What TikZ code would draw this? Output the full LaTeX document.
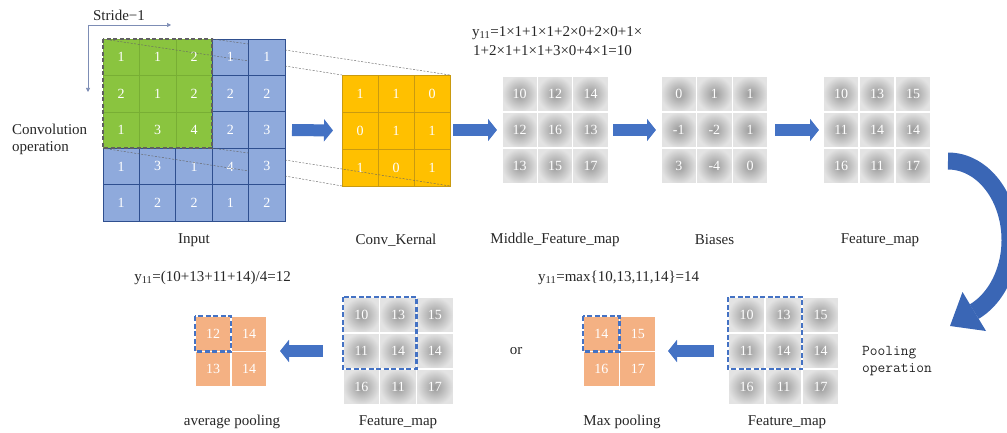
\documentclass[tikz,border=0pt]{standalone}
\usepackage{fontspec}
\setmainfont{Liberation Serif}
\usetikzlibrary{arrows.meta,calc}

\definecolor{inblue}{HTML}{8FAADC}
\definecolor{inline}{HTML}{2F4F8F}
\definecolor{ingreen}{HTML}{8AC43F}
\definecolor{greenline}{HTML}{78AE34}
\definecolor{kernfill}{HTML}{FFC000}
\definecolor{kernline}{HTML}{C99A10}
\definecolor{poolfill}{HTML}{F4B183}
\definecolor{arrowblue}{HTML}{4472C4}
\definecolor{bendblue}{HTML}{3A66B5}
\definecolor{strideline}{HTML}{7D8DB5}

% one grid of numbered cells: name, style, left, top, cell width, cell height, rows
\newcommand{\cellgrid}[7]{%
  \foreach \rowvals [count=\r] in {#7}{%
    \foreach \v [count=\c] in \rowvals{%
      \node[#2, minimum width=#5pt, minimum height=#6pt]
        (#1-\r-\c) at ({#3+#5*(\c-0.5)},{#4+#6*(\r-0.5)}) {\v};
    }}}

\tikzset{
  cellbase/.style={rectangle, inner sep=0pt, outer sep=0pt, text=white,
    font=\fontsize{14}{16}\selectfont},
  bluecell/.style={cellbase, fill=inblue, draw=inline, line width=0.9pt},
  greencell/.style={cellbase, fill=ingreen, draw=greenline, line width=0.5pt},
  kerncell/.style={cellbase, fill=kernfill, draw=kernline, line width=0.5pt},
  graycell/.style={cellbase, draw=white, line width=1.2pt,
    inner color=black!40, outer color=black!11},
  poolcell/.style={cellbase, fill=poolfill, draw=white, line width=1.2pt},
  gridbox/.style={rectangle, inner sep=0pt, outer sep=0pt},
  projline/.style={gray!80!black, line width=0.45pt, dash pattern=on 2pt off 1.5pt},
  blockarrow/.style={draw=arrowblue, line width=12pt,
    -{Triangle[width=22pt,length=9pt]}},
  window/.style={draw=arrowblue, line width=2.2pt, dash pattern=on 5pt off 2.5pt},
  lbl/.style={text=black!85, inner sep=0pt},
}

\begin{document}
\begin{tikzpicture}[x=1pt, y=-1pt, font=\fontsize{15}{17}\selectfont]
\useasboundingbox (0,0) rectangle (1007,433);
\clip (0,0) rectangle (1007,433);

% ---------- input with the 3x3 window ----------
\node[gridbox, minimum width=182pt, minimum height=182pt] (input) at (194,130) {};
\foreach \rowvals [count=\r] in {{1,1,2,1,1},{2,1,2,2,2},{1,3,4,2,3},{1,3,1,4,3},{1,2,2,1,2}}{%
  \foreach \v [count=\c] in \rowvals{%
    \ifnum\r<4 \ifnum\c<4 \def\cs{greencell}\else\def\cs{bluecell}\fi
    \else\def\cs{bluecell}\fi
    \node[\cs, minimum width=36.4pt, minimum height=36.4pt]
      (in-\r-\c) at ({103+36.4*(\c-0.5)},{39+36.4*(\r-0.5)}) {\v};
  }}
\draw[gray!75!black, line width=1.6pt, dash pattern=on 4pt off 2.5pt]
  (in-1-1.north west) rectangle (in-3-3.south east);

% stride directions
\node[lbl] (stride) at (119,15) {Stride−1};
\coordinate (sorig) at (88,25);
\coordinate (sright) at (171,25);
\coordinate (sdown) at (88,92);
\draw[strideline, line width=0.6pt, -{Triangle[width=4pt,length=4pt]}] (sorig) -- (sright);
\draw[strideline, line width=0.6pt, -{Triangle[width=4pt,length=4pt]}] (sorig) -- (sdown);

\node[lbl, align=left, anchor=west] (convop) at (12,139) {Convolution\\operation};

% ---------- kernel ----------
\node[gridbox, minimum width=108pt, minimum height=111pt] (kernel) at (396,130.5) {};
\cellgrid{k}{kerncell}{342}{75}{36}{37}{{1,1,0},{0,1,1},{1,0,1}}

% projection of the window onto the kernel
\draw[projline] (in-1-1.north west) -- (in-1-4.south east |- 0,61);
\draw[projline] (in-1-3.north east) -- (in-1-4.north east |- 0,44);
\draw[projline] (input.east |- 0,50) -- (k-1-3.north east);
\draw[projline] (input.east |- 0,66) -- (k-1-1.north west);
\draw[projline] (in-3-1.south west) -- (in-4-4.east |- 0,171);
\draw[projline] (in-3-3.south east) -- (in-4-4.east |- 0,153);
\draw[projline] (input.east |- 0,160) -- (k-3-3.south east);
\draw[projline] (input.east |- 0,176) -- (k-3-1.south west);

% ---------- gray maps ----------
\node[gridbox, minimum width=106pt, minimum height=108pt] (middle) at (555,130) {};
\cellgrid{m}{graycell}{502}{76}{35.4}{36}{{10,12,14},{12,16,13},{13,15,17}}
\node[gridbox, minimum width=107pt, minimum height=108pt] (biases) at (714.5,130) {};
\cellgrid{b}{graycell}{661}{76}{35.6}{36}{{0,1,1},{-1,-2,1},{3,-4,0}}
\node[gridbox, minimum width=108pt, minimum height=108pt] (feature) at (877,130) {};
\cellgrid{f}{graycell}{823}{76}{36}{36}{{10,13,15},{11,14,14},{16,11,17}}

% ---------- top arrows ----------
\draw[blockarrow, shorten <=7pt, shorten >=9pt] (input.east) -- (kernel.west);
\draw[blockarrow, shorten <=3pt, shorten >=5pt] (kernel.east |- middle.west) -- (middle.west);
\draw[blockarrow, shorten <=5pt, shorten >=5pt] (middle.east) -- (biases.west);
\draw[blockarrow, shorten <=7pt, shorten >=4pt] (biases.east) -- (feature.west);

% ---------- formula ----------
\node[lbl, anchor=west] (formula1) at (472,33) {y\textsubscript{11}=1×1+1×1+2×0+2×0+1×};
\node[lbl, anchor=west] (formula2) at (473,51) {1+2×1+1×1+3×0+4×1=10};

% ---------- top labels ----------
\node[lbl] (lin) at (194,240) {Input};
\node[lbl] (lkern) at (396,240) {Conv\_Kernal};
\node[lbl] (lmid) at (555,240) {Middle\_Feature\_map};
\node[lbl] (lbias) at (714.5,240) {Biases};
\node[lbl] (lfeat) at (880,240) {Feature\_map};

% ---------- bent arrow down to pooling ----------
\coordinate (bendstart) at (948,161);
\draw[bendblue, line width=17pt]
  plot[domain=-90:65, samples=90, smooth] ({948+62*cos(\x)},{240+79*sin(\x)});
\fill[bendblue] (986,331) -- (962.5,292) -- (950,326) -- cycle;

\node[lbl, align=left, anchor=west, font=\ttfamily\fontsize{15}{17}\selectfont]
  (poolop) at (862,361) {Pooling\\operation};

% ---------- average pooling ----------
\node[gridbox, minimum width=110pt, minimum height=108pt] (fmA) at (398,351) {};
\cellgrid{fa}{graycell}{343}{297}{36.7}{36}{{10,13,15},{11,14,14},{16,11,17}}
\draw[window] (fa-1-1.north west) rectangle (fa-2-2.south east);
\node[gridbox, minimum width=72pt, minimum height=71pt] (avg) at (231,351.5) {};
\cellgrid{av}{poolcell}{195}{316}{36}{35.5}{{12,14},{13,14}}
\draw[window] (av-1-1.north west) rectangle (av-1-1.south east);
\draw[blockarrow, shorten <=20pt, shorten >=13pt] (fmA.west) -- (avg.east |- fmA.west);
\node[lbl, anchor=east] (favg) at (291,278) {y\textsubscript{11}=(10+13+11+14)/4=12};
\node[lbl] (lavg) at (232,422) {average pooling};
\node[lbl] (lfa) at (398,422) {Feature\_map};

\node[lbl] (ortext) at (516,351) {or};

% ---------- max pooling ----------
\node[gridbox, minimum width=110pt, minimum height=108pt] (fmB) at (784,351) {};
\cellgrid{fb}{graycell}{728}{297}{37}{36}{{10,13,15},{11,14,14},{16,11,17}}
\draw[window] (fb-1-1.north west) rectangle (fb-2-2.south east);
\node[gridbox, minimum width=73pt, minimum height=71pt] (maxp) at (619.5,351.5) {};
\cellgrid{mx}{poolcell}{583}{316}{36.5}{35.5}{{14,15},{16,17}}
\draw[window] (mx-1-1.north west) rectangle (mx-1-1.south east);
\draw[blockarrow, shorten <=15pt, shorten >=12pt] (fmB.west) -- (maxp.east |- fmB.west);
\node[lbl, anchor=west] (fmax) at (538,278) {y\textsubscript{11}=max\{10,13,11,14\}=14};
\node[lbl] (lmax) at (622,422) {Max pooling};
\node[lbl] (lfb) at (787,422) {Feature\_map};
\end{tikzpicture}
\end{document}
